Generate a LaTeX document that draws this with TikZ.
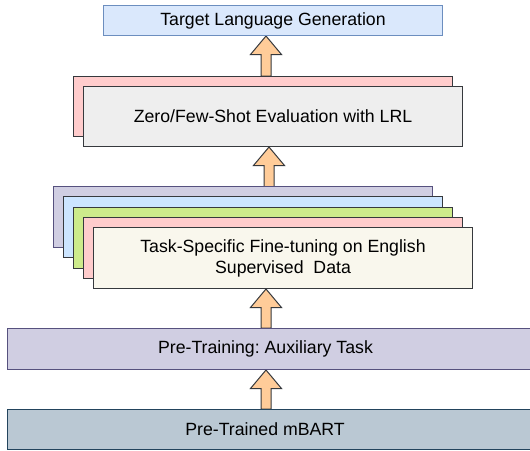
\documentclass[tikz,border=0pt]{standalone}
\usepackage{fontspec}
\setmainfont{Liberation Sans}
\usetikzlibrary{calc}
\frenchspacing
\definecolor{topfill}{HTML}{DAE8FC}
\definecolor{topdraw}{HTML}{6C8EBF}
\definecolor{pinkfill}{HTML}{FFCCCC}
\definecolor{grayfill}{HTML}{EEEEEE}
\definecolor{darkline}{HTML}{36393D}
\definecolor{purplefill}{HTML}{D0CEE2}
\definecolor{purpledraw}{HTML}{56517E}
\definecolor{bluefill}{HTML}{CCE5FF}
\definecolor{greenfill}{HTML}{CDEB8B}
\definecolor{creamfill}{HTML}{F9F7ED}
\definecolor{mbartfill}{HTML}{BAC8D3}
\definecolor{mbartdraw}{HTML}{23445D}
\definecolor{arrowfill}{HTML}{FFCC99}
\tikzset{
  box/.style={draw=darkline, line width=1pt, rectangle, inner sep=0pt, anchor=north west, align=center},
  stackbox/.style={box, minimum width=379pt, minimum height=61pt},
  blockarrow/.style={draw=darkline, fill=arrowfill, line width=1pt, line join=miter},
  lbl/.style={inner sep=0pt, align=center}
}
\newcommand{\blockarr}[2]{%
  \draw[blockarrow] let \p1=(#1), \p2=(#2) in
    (\x1-5pt,\y1) -- (\x1-5pt,\y2-18.5pt) -- (\x1-15.5pt,\y2-18.5pt) -- (\x2,\y2)
    -- (\x1+15.5pt,\y2-18.5pt) -- (\x1+5pt,\y2-18.5pt) -- (\x1+5pt,\y1) -- cycle;}
\begin{document}
\begin{tikzpicture}[x=1pt,y=-1pt,font=\fontsize{17.7}{21.3}\selectfont\frenchspacing]
\useasboundingbox (0,0) rectangle (530,450);
% arrow coordinates
\coordinate (a1b) at (266,76);  \coordinate (a1t) at (266,36);
\coordinate (a2b) at (269,187); \coordinate (a2t) at (269,147);
\coordinate (a3b) at (266,328); \coordinate (a3t) at (266,289);
\coordinate (a4b) at (266,409); \coordinate (a4t) at (266,370);
\blockarr{a1b}{a1t}
\blockarr{a2b}{a2t}
\blockarr{a3b}{a3t}
\blockarr{a4b}{a4t}
% top box
\node[box, draw=topdraw, fill=topfill, minimum width=339pt, minimum height=30pt] (tlg) at (103,5) {Target Language Generation};
% zero/few-shot stack
\node[box, fill=pinkfill, minimum width=379pt, minimum height=60pt] (zs1) at (73,76) {};
\node[box, fill=grayfill, minimum width=379pt, minimum height=60pt] (zs) at (83,86) {Zero/Few-Shot Evaluation with LRL};
% fine-tuning stack
\node[stackbox, draw=purpledraw, fill=purplefill] (ft1) at (53,186) {};
\node[stackbox, fill=bluefill] (ft2) at (63,196.3) {};
\node[stackbox, fill=greenfill] (ft3) at (73,206.6) {};
\node[stackbox, fill=pinkfill] (ft4) at (83,216.9) {};
\node[stackbox, fill=creamfill] (ft) at (93,227.2) {Task-Specific Fine-tuning on English\\Supervised~\ Data};
% pre-training
\node[box, draw=purpledraw, fill=purplefill, minimum width=540pt, minimum height=41pt] (pt) at (7,328) {};
\node[lbl] (ptl) at (265.5,348.5) {Pre-Training: Auxiliary Task};
% mBART
\node[box, draw=mbartdraw, fill=mbartfill, minimum width=540pt, minimum height=40pt] (mb) at (7,409) {};
\node[lbl] (mbl) at (265,429) {Pre-Trained mBART};
\end{tikzpicture}
\end{document}
